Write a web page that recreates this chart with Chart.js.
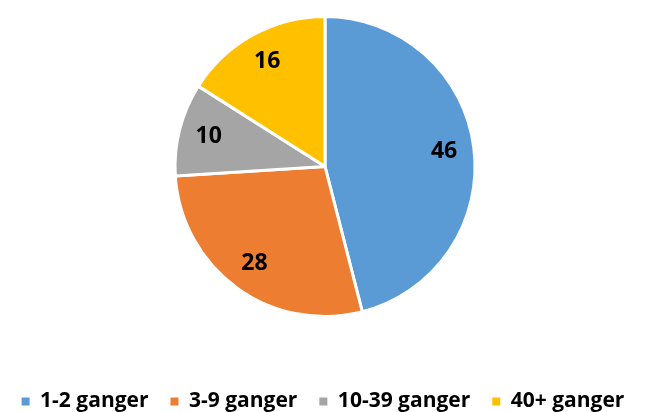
<!DOCTYPE html>
<html>
<head>
<meta charset="utf-8">
<script src="https://cdn.jsdelivr.net/npm/chart.js@4.4.0/dist/chart.umd.min.js"></script>
<style>
  html, body { margin: 0; padding: 0; background: #ffffff; }
  #wrap { width: 654px; height: 412px; }
</style>
</head>
<body>
<div id="wrap"><canvas id="pie"></canvas></div>
<script>
// Categories and values
const categories = ["1-2 ganger", "3-9 ganger", "10-39 ganger", "40+ ganger"];
const values = [46, 28, 10, 16];

// Slice colours
const sliceColors = ["#5B9BD5", "#ED7D31", "#A5A5A5", "#FFC000"];

// Draws the value inside each slice
const sliceLabels = {
  id: "sliceLabels",
  afterDatasetsDraw(chart) {
    const ctx = chart.ctx;
    const meta = chart.getDatasetMeta(0);
    ctx.save();
    ctx.font = "bold 23px 'Open Sans'";
    ctx.fillStyle = "#000000";
    ctx.textAlign = "center";
    ctx.textBaseline = "middle";
    meta.data.forEach((arc, i) => {
      const p = arc.getProps(["x", "y", "startAngle", "endAngle", "outerRadius"], true);
      const mid = (p.startAngle + p.endAngle) / 2;
      const r = p.outerRadius * 0.8;
      ctx.fillText(String(chart.data.datasets[0].data[i]), p.x + Math.cos(mid) * r, p.y + Math.sin(mid) * r);
    });
    ctx.restore();
  },
};

new Chart(document.getElementById("pie"), {
  type: "pie",
  plugins: [sliceLabels],
  data: {
    labels: categories,
    datasets: [
      {
        data: values,
        backgroundColor: sliceColors,
        borderColor: "#ffffff",
        borderWidth: 3,
        radius: 150,
      },
    ],
  },
  options: {
    responsive: true,
    maintainAspectRatio: false,
    animation: false,
    layout: { padding: { top: 0, bottom: -10, left: -4, right: 4 } },
    plugins: {
      tooltip: { enabled: false },
      legend: {
        position: "bottom",
        // empty title only used as a spacer above the legend row
        title: { display: true, text: "", font: { size: 10 }, padding: { top: 24, bottom: 0 } },
        labels: {
          boxWidth: 8,
          boxHeight: 8,
          padding: 22,
          color: "#000000",
          font: { family: "'Open Sans'", size: 21, weight: "bold" },
          // plain filled squares, no white outline
          generateLabels(chart) {
            const items = Chart.overrides.pie.plugins.legend.labels.generateLabels(chart);
            items.forEach((it) => { it.lineWidth = 0; });
            return items;
          },
        },
      },
    },
  },
});
</script>
</body>
</html>
